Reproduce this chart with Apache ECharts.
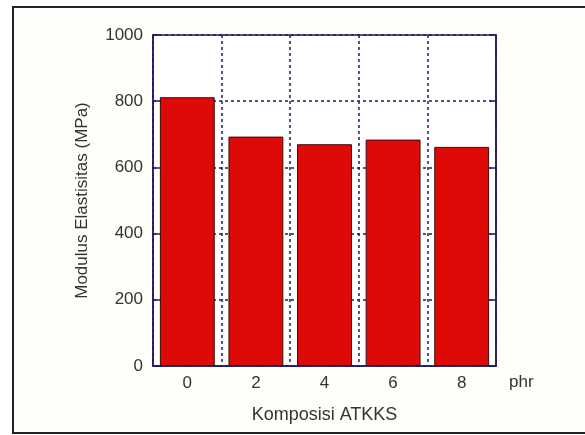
<!DOCTYPE html>
<html>
<head>
<meta charset="utf-8">
<script src="https://cdn.jsdelivr.net/npm/echarts@6/dist/echarts.min.js"></script>
<style>html,body{margin:0;padding:0;background:#fff;}#c{width:585px;height:435px;}</style>
</head>
<body>
<div id="c"></div>
<script>
const categories = ['0', '2', '4', '6', '8'];
const modulusValues = [812, 693, 670, 684, 662];
const yTicks = [0, 200, 400, 600, 800, 1000];
const xAxisTitle = 'Komposisi ATKKS';
const yAxisTitle = 'Modulus Elastisitas (MPa)';
const unitLabel = 'phr';

const navy = '#1b1b6b';
const textColor = '#333';
const fontFam = 'Liberation Sans, Arial, sans-serif';

const chart = echarts.init(document.getElementById('c'));
chart.setOption({
  backgroundColor: '#fff',
  animation: false,
  graphic: [{
    type: 'rect', z: -10, silent: true,
    shape: { x: 13, y: 7, width: 590, height: 426 },
    style: { fill: '#fefefb', stroke: '#222', lineWidth: 2 }
  }, {
    type: 'text', z: 10,
    left: 509, top: 374,
    style: { text: unitLabel, fontSize: 17, fontFamily: fontFam, fill: textColor }
  }],
  grid: { left: 153, right: 89, top: 35, bottom: 69, show: true, borderColor: navy, borderWidth: 1.5, backgroundColor: '#fff' },
  xAxis: {
    type: 'category', data: categories,
    axisLine: { lineStyle: { color: navy, width: 1.5 } },
    axisTick: { show: false },
    axisLabel: { color: textColor, fontSize: 17, fontFamily: fontFam, margin: 9 },
    splitLine: { show: true, lineStyle: { color: navy, type: [3, 3], width: 1.5 } },
    name: xAxisTitle, nameLocation: 'middle', nameGap: 40,
    nameTextStyle: { color: textColor, fontSize: 18, fontFamily: fontFam }
  },
  yAxis: [{
    type: 'value', min: 0, max: 1000, interval: 200,
    axisLine: { show: true, lineStyle: { color: navy, width: 1.5 } },
    axisTick: { show: true, inside: true, length: 6, lineStyle: { color: navy, width: 1.5 } },
    axisLabel: { color: textColor, fontSize: 17, fontFamily: fontFam, margin: 10,
      formatter: v => yTicks.includes(v) ? String(v) : '' },
    splitLine: { show: true, lineStyle: { color: navy, type: [3, 3], width: 1.5 } },
    name: yAxisTitle, nameLocation: 'middle', nameGap: 62, nameRotate: 90,
    nameTextStyle: { color: textColor, fontSize: 17, fontFamily: fontFam }
  }, {
    type: 'value', min: 0, max: 1000, interval: 200, position: 'right',
    axisLine: { show: true, lineStyle: { color: navy, width: 1.5 } },
    axisTick: { show: true, inside: true, length: 6, lineStyle: { color: navy, width: 1.5 } },
    axisLabel: { show: false },
    splitLine: { show: false }
  }],
  series: [{
    type: 'bar', data: modulusValues, barWidth: '80%',
    itemStyle: { color: '#dd0a08', borderColor: '#3a0a0a', borderWidth: 1 }
  }]
});
</script>
</body>
</html>
